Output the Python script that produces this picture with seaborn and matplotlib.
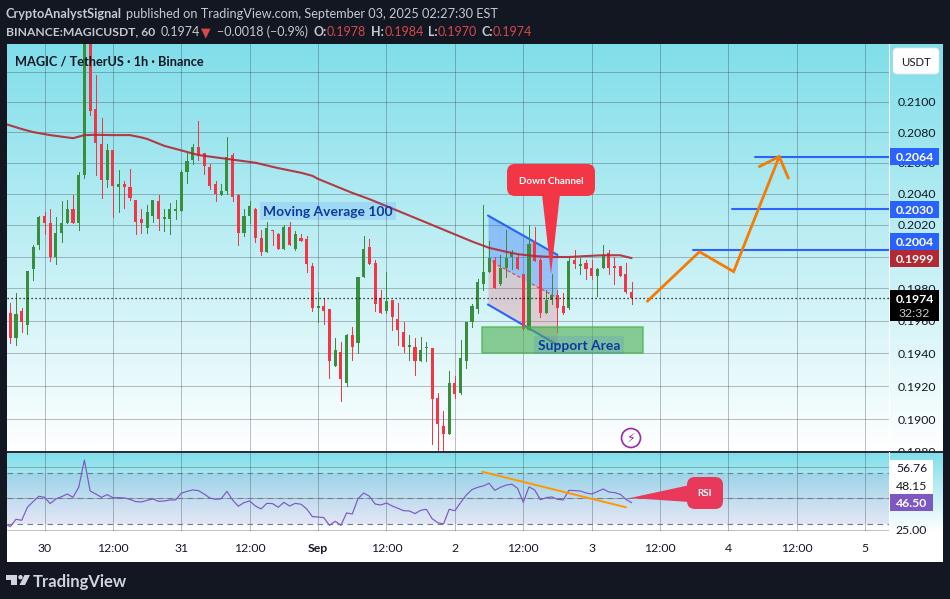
import numpy as np
import matplotlib
matplotlib.use("Agg")
import matplotlib.pyplot as plt
import seaborn as sns
from matplotlib.colors import LinearSegmentedColormap
from matplotlib.patches import Rectangle, FancyBboxPatch, Polygon, Circle

# ================= data =================
candle_hours = np.arange(-6, 104)  # hours since Aug 30 00:00
opens = [.1965,.1949,.1966,.1957,.1992,.2007,.2026,.2021,.2000,.2015,.2021,.2030,.2021,.2052,.2150,.2095,.2072,.2049,.2068,.2044,
         .2046,.2044,.2036,.2024,.2018,.2026,.2035,.2024,.2024,.2029,.2029,.2054,.2062,.2070,.2066,.2057,.2046,.2039,.2042,.2065,
         .2039,.2015,.2026,.2030,.2012,.2003,.2017,.2014,.2005,.2019,.2005,.2012,.2011,.1994,.1968,.1969,.1967,.1932,.1941,.1922,
         .1951,.1946,.1987,.2006,.1996,.1974,.1966,.1973,.1961,.1953,.1944,.1944,.1935,.1943,.1943,.1913,.1896,.1891,.1922,.1916,
         .1935,.1959,.1967,.1983,.1990,.1998,.1983,.1993,.2000,.2000,.1989,.1954,.2010,.1998,.1965,.1973,.1976,.1969,.1968,.1998,
         .1994,.1996,.1993,.1988,.1993,.2002,.1994,.1994,.1989,.1978]
highs = [.1971,.1977,.1968,.1991,.2007,.2026,.2028,.2030,.2025,.2035,.2036,.2039,.2054,.2160,.2170,.2118,.2089,.2072,.2068,.2055,
         .2048,.2056,.2036,.2030,.2033,.2036,.2039,.2030,.2034,.2036,.2055,.2066,.2072,.2087,.2066,.2059,.2048,.2046,.2077,.2066,
         .2040,.2030,.2035,.2031,.2017,.2022,.2017,.2015,.2020,.2022,.2016,.2014,.2013,.1996,.1978,.1974,.1967,.1949,.1947,.1952,
         .1956,.1987,.2013,.2011,.1998,.1979,.1990,.1973,.1971,.1959,.1951,.1949,.1950,.1947,.1943,.1916,.1905,.1929,.1926,.1948,
         .1959,.1970,.1986,.2033,.2010,.2000,.2001,.2017,.2004,.2001,.1989,.2020,.2019,.1999,.1979,.1989,.1979,.1977,.1999,.2004,
         .1999,.1998,.1998,.1993,.2007,.2004,.2000,.1994,.1996,.1984]
lows = [.1946,.1945,.1953,.1952,.1985,.2005,.2014,.1997,.1995,.2009,.2021,.2021,.2017,.2050,.2091,.2052,.2037,.2044,.2025,.2028,
        .2031,.2036,.2014,.2015,.2015,.2022,.2017,.2016,.2014,.2024,.2029,.2047,.2059,.2062,.2053,.2043,.2035,.2039,.2040,.2035,
        .2007,.2013,.2021,.2009,.2001,.2003,.2007,.2005,.2005,.2007,.2004,.2010,.1990,.1966,.1959,.1958,.1925,.1932,.1911,.1920,
        .1936,.1940,.1987,.1995,.1966,.1965,.1965,.1954,.1945,.1941,.1936,.1927,.1935,.1935,.1885,.1878,.1878,.1891,.1913,.1915,
        .1931,.1956,.1965,.1979,.1990,.1980,.1982,.1987,.1992,.1992,.1954,.1954,.1997,.1962,.1965,.1970,.1953,.1964,.1967,.1993,
        .1989,.1986,.1986,.1975,.1993,.1989,.1983,.1988,.1977,.1970]
closes = [.1949,.1964,.1959,.1991,.2006,.2025,.2021,.2000,.2015,.2021,.2030,.2021,.2052,.2150,.2094,.2073,.2049,.2068,.2045,.2046,
          .2044,.2037,.2022,.2021,.2028,.2036,.2024,.2025,.2030,.2030,.2054,.2061,.2070,.2065,.2058,.2045,.2040,.2042,.2064,.2038,
          .2015,.2026,.2032,.2012,.2003,.2018,.2016,.2005,.2019,.2007,.2014,.2010,.1995,.1968,.1969,.1966,.1935,.1942,.1924,.1951,
          .1944,.1987,.2005,.1995,.1970,.1965,.1972,.1962,.1954,.1944,.1945,.1935,.1942,.1944,.1912,.1897,.1891,.1922,.1915,.1937,
          .1959,.1969,.1984,.1990,.1999,.1980,.1993,.1999,.2002,.1992,.1955,.2008,.1997,.1965,.1973,.1976,.1968,.1965,.1997,.1995,
          .1995,.1992,.1988,.1992,.2001,.1993,.1993,.1988,.1978,.1974]

ma_hours = [-7,-4,-2,1,3,5,6,7,9,12,15,17,18,20,21,24,27,32,37,41,45,47,48,50,52,54,57,60,63,66,69,72,75,78,81,83,86,89,92,95,98,101,103]
ma_values = [.20855,.20820,.20800,.20780,.20770,.20760,.20770,.20780,.20782,.20780,.20780,.20765,.20755,.20725,.20710,.20680,.20650,
             .20625,.20600,.20565,.20535,.20515,.20495,.20465,.20435,.20405,.20365,.20320,.20275,.20230,.20185,.20140,.20095,.20055,
             .20030,.20015,.20003,.19997,.19997,.20003,.20008,.20008,.19990]

rsi_hours = np.arange(-7, 104)
rsi_values = [29.7,27.6,33.4,32.6,42.9,47.4,51.6,50.8,45.8,49.5,51.3,53.4,50.8,58.7,80.3,55.8,53.4,50.8,52.9,50.5,50.5,50.3,49.2,47.4,47.1,
              48.4,49.5,47.6,47.9,48.7,48.7,54.0,55.5,56.6,56.1,53.4,50.3,49.2,49.7,55.5,48.7,43.7,46.6,47.9,43.9,41.6,46.0,45.8,42.9,46.8,
              43.9,46.0,45.3,41.6,35.5,35.2,34.7,28.6,31.8,28.6,38.4,37.6,49.7,54.2,51.6,45.5,44.7,46.3,43.9,42.1,40.2,40.0,37.9,40.5,41.3,
              33.9,30.7,29.7,41.3,40.2,46.6,52.6,56.9,58.7,59.8,61.9,56.3,58.7,60.5,61.1,57.9,46.8,59.0,56.6,48.9,50.5,51.1,49.2,48.7,56.3,
              56.1,55.8,54.2,53.4,55.3,57.4,55.0,54.5,53.2,49.2,46.5]

price_ticks = [.2120,.2100,.2080,.2060,.2040,.2020,.2000,.1980,.1960,.1940,.1920,.1900]
price_labels = ["", "0.2100","0.2080","0.2060","0.2040","0.2020","","0.1980","0.1960","0.1940","0.1920","0.1900"]
time_ticks = [0,12,24,36,48,60,72,84,96,108,120,132,144]
time_labels = ["30","12:00","31","12:00","Sep","12:00","2","12:00","3","12:00","4","12:00","5"]
rsi_ticks = [25,50,75]
rsi_guides = [70,50,30]

target_levels = [.2064,.2030,.2004]
target_starts = [124.6,120.6,113.8]
path_hours = [105.75,114.9,120.9,128.9]
path_prices = [.1972,.2003,.19905,.2064]
head_hours = [125.4,128.9,130.5]
head_prices = [.20575,.2064,.2050]
channel_hours = [77.8,90.0]
channel_top = [.2026,.2001]
channel_mid = [.1998,.1974]
channel_low = [.1970,.1945]
support_hours = [76.8,105.0]
support_prices = [.1940,.1956]
rsi_trend_hours = [76.8,102.0]
rsi_trend_values = [71.0,42.9]
last_price = .1974
ma_last = .1999
# ========================================

BG = "#131722"
UP = "#388e3c"
DOWN = "#f23645"
BLUE = "#2962ff"
ORANGE = "#f57c00"
MA_RED = "#b22833"
PURPLE = "#7e57c2"
TXT = "#131722"
GRID = "#2a2e39"
GRID_ALPHA = 0.3
SCALE_SIZE = 8.8

sns.set_theme(style="white", rc={"font.family": ["Lato", "DejaVu Sans"], "axes.unicode_minus": False})

fig = plt.figure(figsize=(9.5, 5.99), dpi=100, facecolor=BG)


def px_axes(x0, y0, x1, y1, **kw):
    # pixel box measured from the top left corner
    return fig.add_axes([x0 / 950, 1 - y1 / 599, (x1 - x0) / 950, (y1 - y0) / 599], **kw)


# backdrop
ax_bg = fig.add_axes([0, 0, 1, 1], zorder=0)
ax_bg.set_axis_off()
fade = LinearSegmentedColormap.from_list("fade", ["#80deea", "#ffffff"])
ramp = np.linspace(0, 1, 256).reshape(-1, 1)
ax_bg.imshow(ramp, cmap=fade, extent=(7, 943, 451, 44), aspect="auto")
ax_bg.imshow(ramp, cmap=fade, extent=(7, 943, 531, 452), aspect="auto")
ax_bg.add_patch(Rectangle((7, 531), 936, 30.5, color="white", lw=0))
ax_bg.add_patch(Rectangle((7, 451), 936, 1.5, color="#2a2e39", lw=0))
ax_bg.add_patch(Rectangle((889, 44), 1, 407, color="white", lw=0))
ax_bg.add_patch(Rectangle((889, 452), 1, 79, color="white", lw=0))
ax_bg.set_xlim(0, 950)
ax_bg.set_ylim(599, 0)

# price pane
ax = px_axes(7, 44, 889, 451, zorder=2)
ax.patch.set_alpha(0)
ax.set_yscale("log")
ax.set_xlim(-6.579, 148.158)
ax.set_ylim(.18811, .213854)
ax.set_yticks(price_ticks)
ax.set_yticklabels(price_labels)
ax.minorticks_off()
ax.yaxis.tick_right()
ax.tick_params(axis="y", length=0, pad=6.5, labelsize=SCALE_SIZE, labelcolor=TXT)
ax.set_xticks(time_ticks)
ax.tick_params(axis="x", length=0, labelbottom=False)
ax.grid(True, color=GRID, alpha=GRID_ALPHA, lw=0.72)
ax.set_axisbelow(True)
for s in ax.spines.values():
    s.set_visible(False)

# channel + support drawings, under the candles
ax.fill_between(channel_hours, channel_mid, channel_top, color=BLUE, alpha=0.32, lw=0, zorder=1.5)
ax.fill_between(channel_hours, channel_low, channel_mid, color=DOWN, alpha=0.2, lw=0, zorder=1.5)
ax.plot(channel_hours, channel_top, color=BLUE, lw=1.5, zorder=1.6)
ax.plot(channel_hours, channel_low, color=BLUE, lw=1.5, zorder=1.6)
ax.plot(channel_hours, channel_mid, color=DOWN, lw=0.8, ls=(0, (3, 2)), zorder=1.6)

# candles
o, h, l, c = map(np.array, (opens, highs, lows, closes))
colors = np.where(c >= o, UP, DOWN)
ax.vlines(candle_hours, l, h, colors=colors, lw=0.72, zorder=3, antialiased=False)
ax.bar(candle_hours, np.abs(c - o), bottom=np.minimum(o, c), width=0.53, color=colors, lw=0, zorder=3.1, antialiased=False)

sns.lineplot(x=ma_hours, y=ma_values, ax=ax, color=MA_RED, lw=1.5, alpha=0.9, errorbar=None, zorder=4)
ax.axhline(last_price, color="black", lw=0.9, ls=(0, (1, 2.2)), zorder=4)

ax.fill_between(support_hours, support_prices[0], support_prices[1], facecolor="#4caf50", alpha=0.6,
                edgecolor="#4caf50", lw=1.5, zorder=4.2)

for level, start in zip(target_levels, target_starts):
    ax.plot([start, 148.158], [level, level], color=BLUE, lw=1.5, zorder=4.5)
ax.plot(path_hours, path_prices, color=ORANGE, lw=2, solid_joinstyle="miter", zorder=5)
ax.plot(head_hours, head_prices, color=ORANGE, lw=2, solid_joinstyle="miter", zorder=5)

ax.set_xlabel("")
ax.set_ylabel("")

# bottom label of the price scale, half hidden by the oscillator pane
cut = ax.text(1.0102, .1880, "0.1880", transform=ax.get_yaxis_transform(), ha="left", va="center",
              fontsize=SCALE_SIZE, color=TXT, zorder=1)
cut.set_clip_on(True)
cut.set_clip_box(matplotlib.transforms.Bbox([[889, 599 - 451], [943, 599 - 44]]))

# rsi pane
ax_rsi = px_axes(7, 452, 889, 531, zorder=2)
ax_rsi.patch.set_alpha(0)
ax_rsi.set_xlim(-6.579, 148.158)
ax_rsi.set_ylim(24.13, 86.63)
ax_rsi.set_xticks(time_ticks)
ax_rsi.set_xticklabels(time_labels)
ax_rsi.set_yticks(rsi_ticks)
ax_rsi.set_yticklabels([])
ax_rsi.tick_params(length=0)
ax_rsi.tick_params(axis="x", pad=9, labelsize=SCALE_SIZE, labelcolor=TXT)
ax_rsi.get_xticklabels()[4].set_fontweight("bold")
ax_rsi.grid(True, color=GRID, alpha=GRID_ALPHA, lw=0.72)
ax_rsi.set_axisbelow(True)
for s in ax_rsi.spines.values():
    s.set_visible(False)
ax_rsi.axhspan(rsi_guides[2], rsi_guides[0], color=PURPLE, alpha=0.13, lw=0, zorder=0.5)
for g in rsi_guides:
    ax_rsi.axhline(g, color="#787b86", lw=0.8, ls=(0, (5, 4)), zorder=1)
sns.lineplot(x=rsi_hours, y=rsi_values, ax=ax_rsi, color=PURPLE, lw=0.85, errorbar=None, zorder=3)
ax_rsi.plot(rsi_trend_hours, rsi_trend_values, color="#ff9800", lw=1.4, zorder=4)
ax_rsi.set_xlabel("")
ax_rsi.set_ylabel("")

# overlay, pixel coordinates from the top left
top = fig.add_axes([0, 0, 1, 1], zorder=5)
top.patch.set_alpha(0)
top.set_axis_off()
top.set_xlim(0, 950)
top.set_ylim(599, 0)


def price_y(p):
    return 599 - ax.transData.transform((0, p))[1]


def tag(y, text, color, fg="white", height=17, weight="bold"):
    top.add_patch(Rectangle((890, y - height / 2), 49, height, color=color, lw=0))
    top.text(914.5, y, text, color=fg, ha="center", va="center_baseline", fontsize=SCALE_SIZE, fontweight=weight)


tag(price_y(target_levels[0]), f"{target_levels[0]:.4f}", BLUE)
tag(price_y(target_levels[1]), f"{target_levels[1]:.4f}", BLUE)
# the 0.2004 tag is pushed up by the moving average tag right below it
tag(price_y(target_levels[2]) - 8.3, f"{target_levels[2]:.4f}", BLUE)
tag(price_y(ma_last), f"{ma_last:.4f}", MA_RED)

ly = price_y(last_price)
top.add_patch(Rectangle((890, 290), 49, 31, color="black", lw=0))
top.text(914.5, ly, f"{last_price:.4f}", color="white", ha="center", va="center_baseline", fontsize=SCALE_SIZE, fontweight="bold")
top.text(914.5, 312.5, "32:32", color="#c8c8c8", ha="center", va="center_baseline", fontsize=SCALE_SIZE)

# rsi scale
top.add_patch(Rectangle((890, 460), 43, 34, color="white", lw=0))
top.add_patch(Rectangle((890, 494), 43, 17, color=PURPLE, lw=0))
top.text(911.5, 468, "56.76", color=TXT, ha="center", va="center_baseline", fontsize=SCALE_SIZE)
top.text(911.5, 485, "48.15", color=TXT, ha="center", va="center_baseline", fontsize=SCALE_SIZE)
top.text(911.5, 502.5, "46.50", color="white", ha="center", va="center_baseline", fontsize=SCALE_SIZE, fontweight="bold")
top.text(911.5, 529, "25.00", color=TXT, ha="center", va="center_baseline", fontsize=SCALE_SIZE)

# USDT button
top.add_patch(FancyBboxPatch((895, 50), 42, 22, boxstyle="round,pad=2,rounding_size=4", fc="white", ec="#e0e3eb", lw=0.6))
top.text(916, 61.5, "USDT", color=TXT, ha="center", va="center_baseline", fontsize=8.2)

# callouts
top.add_patch(Polygon([(542, 194), (560, 194), (551, 274)], color=DOWN, lw=0))
top.add_patch(FancyBboxPatch((513, 170), 76, 20, boxstyle="round,pad=6,rounding_size=8", fc=DOWN, ec="none"))
top.text(551, 180, "Down Channel", color="white", ha="center", va="center_baseline", fontsize=7, fontweight="bold")

RSI_RED = "#e8395b"
top.add_patch(Polygon([(630, 498), (690, 485), (690, 502)], color=RSI_RED, lw=0))
top.add_patch(FancyBboxPatch((693, 483), 24, 20, boxstyle="round,pad=6,rounding_size=8", fc=RSI_RED, ec="none"))
top.text(705, 493, "RSI", color="white", ha="center", va="center_baseline", fontsize=7, fontweight="bold")

# text labels on the chart
top.add_patch(Rectangle((260, 202), 136, 18, color=BLUE, alpha=0.13, lw=0))
top.text(328, 211, "Moving Average 100", color="#0d3a9e", ha="center", va="center_baseline", fontsize=10, fontweight="bold")
top.add_patch(Rectangle((534, 336), 90, 18, color=BLUE, alpha=0.13, lw=0))
top.text(579, 345, "Support Area", color="#0d3a9e", ha="center", va="center_baseline", fontsize=10, fontweight="bold")
top.text(15, 60.5, "MAGIC / TetherUS · 1h · Binance", color=TXT, ha="left", va="center_baseline", fontsize=9.2, fontweight="bold")

# lightning badge
top.add_patch(Circle((631, 438), 9.5, fc="none", ec="#9c27b0", lw=1.2))
top.text(631, 438, "\u26a1", family="DejaVu Sans", color="#9c27b0", ha="center", va="center", fontsize=9)

# header
LIGHT = "#c4c8d0"
HEAD_RED = "#d5484c"
header_line1 = [(6, "CryptoAnalystSignal", LIGHT, "bold", 9.2),
                (126, "published on TradingView.com, September 03, 2025 02:27:30 EST", LIGHT, "normal", 9.15)]
header_line2 = [(6, "BINANCE:MAGICUSDT, 60", LIGHT, "bold", 8.7), (161, "0.1974", LIGHT, "normal", 9),
                (201, "\u25bc", HEAD_RED, "normal", 9), (217, "\u22120.0018 (\u22120.9%)", LIGHT, "normal", 9),
                (313, "O:", LIGHT, "bold", 9), (327, "0.1978", HEAD_RED, "normal", 9),
                (371, "H:", LIGHT, "bold", 9), (385, "0.1984", HEAD_RED, "normal", 9),
                (428, "L:", LIGHT, "bold", 9), (438, "0.1970", HEAD_RED, "normal", 9),
                (482, "C:", LIGHT, "bold", 9), (493, "0.1974", HEAD_RED, "normal", 9)]
for x, s, col, w, size in header_line1:
    top.text(x, 13, s, color=col, fontweight=w, fontsize=size, ha="left", va="center_baseline")
for x, s, col, w, size in header_line2:
    top.text(x, 31, s, color=col, fontweight=w, fontsize=size, ha="left", va="center_baseline")

# footer logo
FOOT = "#d1d4dc"
top.add_patch(Polygon([(6, 575), (16.5, 575), (16.5, 585), (11, 585), (11, 579.5), (6, 579.5)], color=FOOT, lw=0))
top.add_patch(Circle((20.5, 577.2), 2.2, color=FOOT, lw=0))
top.add_patch(Polygon([(24.5, 575), (30, 575), (25, 585), (19.5, 585)], color=FOOT, lw=0))
top.text(33, 580.5, "TradingView", color=FOOT, fontsize=12, fontweight="bold", ha="left", va="center_baseline")

fig.savefig("out.png", dpi=100, facecolor=BG)
